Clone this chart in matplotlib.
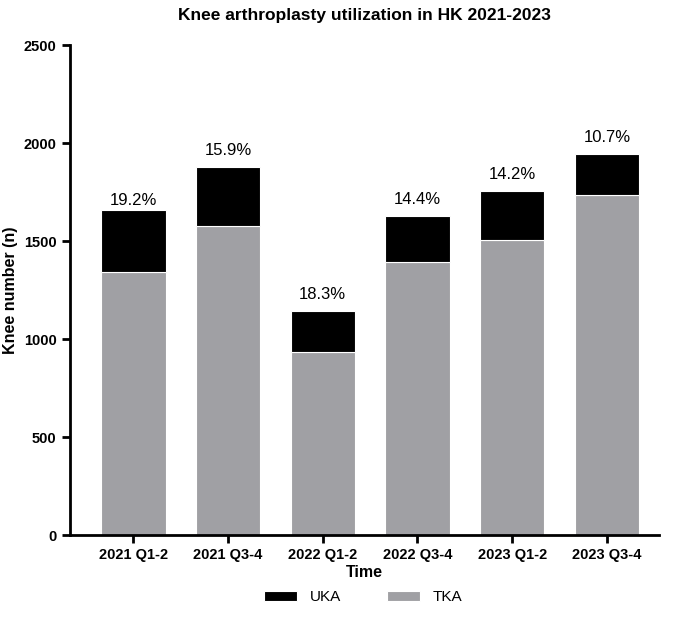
import matplotlib
matplotlib.use("Agg")
import matplotlib.pyplot as plt
import numpy as np

categories = ["2021 Q1-2", "2021 Q3-4", "2022 Q1-2", "2022 Q3-4", "2023 Q1-2", "2023 Q3-4"]
totals = [1660, 1878, 1143, 1627, 1755, 1945]
uka_pct = [19.2, 15.9, 18.3, 14.4, 14.2, 10.7]
uka = [round(t * p / 100) for t, p in zip(totals, uka_pct)]
tka = [t - u for t, u in zip(totals, uka)]

plt.rcParams["font.family"] = "Liberation Sans"
fig = plt.figure(figsize=(6.85, 6.18), dpi=100)
ax = fig.add_axes([0.102, 0.134, 0.86, 0.793])
x = np.arange(len(categories))
ax.bar(x, tka, width=0.68, color="#a0a0a4", edgecolor="white", linewidth=0.8, label="TKA")
ax.bar(x, uka, bottom=tka, width=0.68, color="black", edgecolor="white", linewidth=0.8, label="UKA")
for xi, t, p in zip(x, totals, uka_pct):
    off = 10 if p in (19.2,) else 45
    ax.text(xi, t + off, f"{p}%", ha="center", va="bottom", fontsize=12)
ax.set_ylim(0, 2500)
ax.set_xlim(-0.67, 5.55)
ax.set_yticks(range(0, 2501, 500))
ax.set_xticks(x)
ax.set_xticklabels(categories, fontweight="bold", fontsize=10.5)
for lab in ax.get_yticklabels():
    lab.set_fontweight("bold"); lab.set_fontsize(10.5)
ax.spines["top"].set_visible(False)
ax.spines["right"].set_visible(False)
ax.spines["left"].set_linewidth(2)
ax.spines["bottom"].set_linewidth(2)
ax.tick_params(width=2, length=6)
ax.set_ylabel("Knee number (n)", fontweight="bold", fontsize=11.5)
ax.set_xlabel("Time", fontweight="bold", fontsize=11.5, labelpad=2)
ax.set_title("Knee arthroplasty utilization in HK 2021-2023", fontweight="bold", fontsize=12.5, pad=18)
h, l = ax.get_legend_handles_labels()
fig.legend(h[::-1], l[::-1], loc="lower center", ncol=2, frameon=False, fontsize=11,
           bbox_to_anchor=(0.53, 0.0), columnspacing=3, handlelength=2.2)
fig.savefig("out.png", dpi=100)
